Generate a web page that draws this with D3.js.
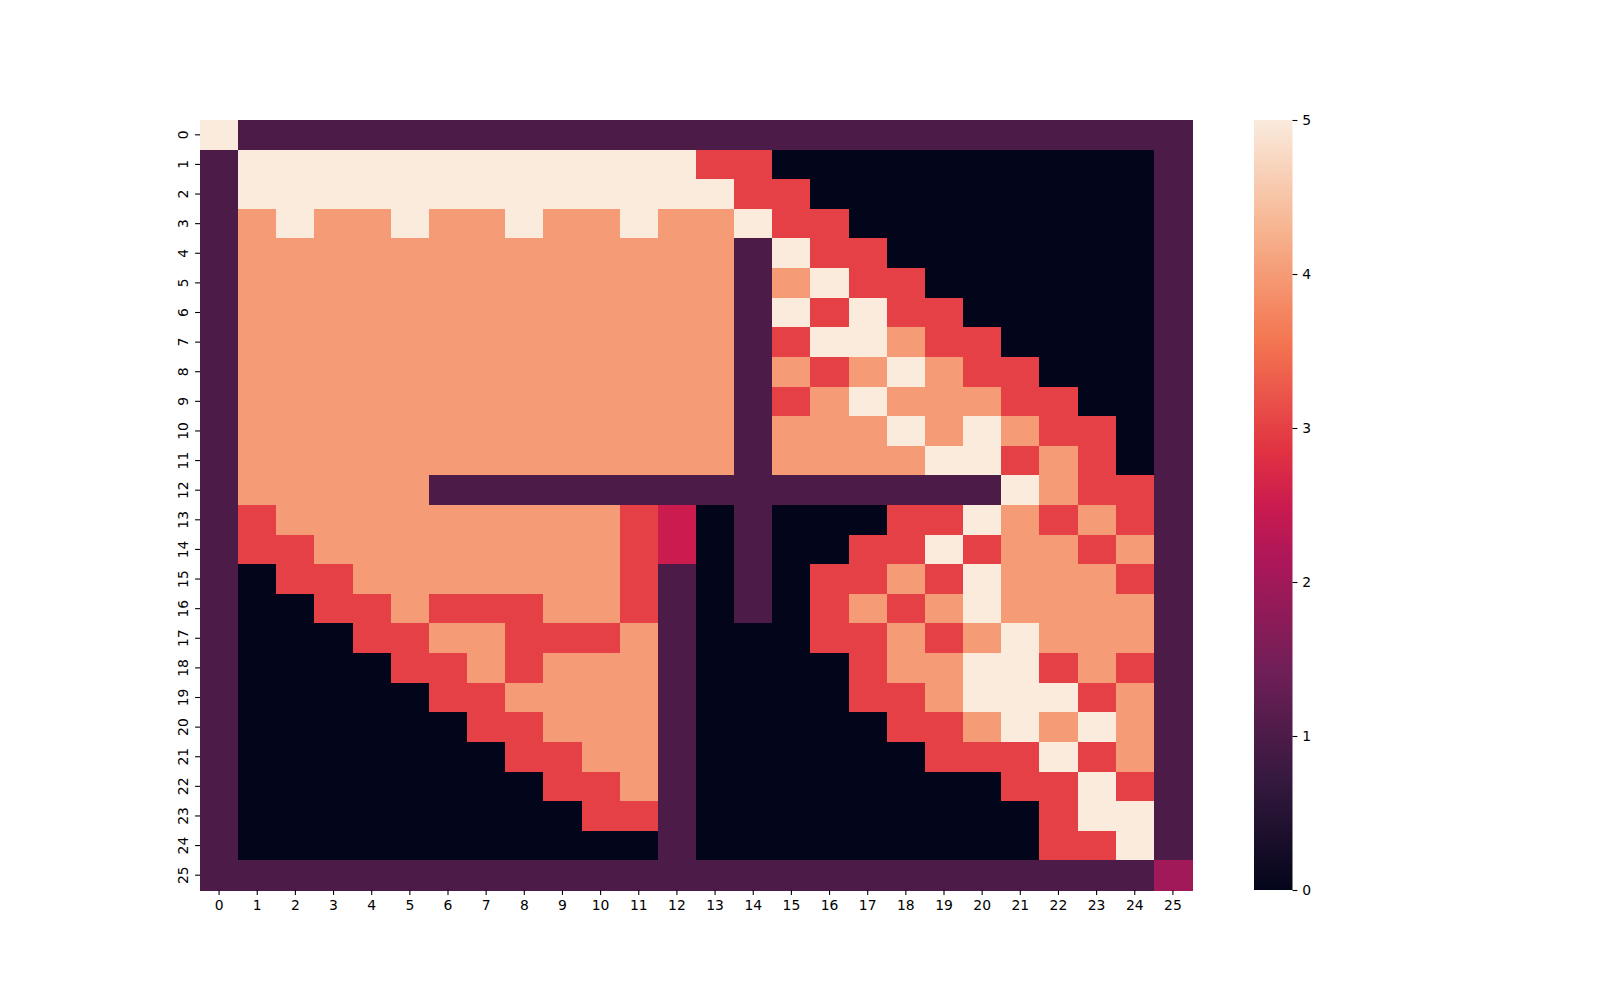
<!DOCTYPE html>
<html><head><meta charset="utf-8">
<script src="https://cdn.jsdelivr.net/npm/d3@7"></script>
<style>html,body{margin:0;padding:0;background:#fff;} text{font-family:"DejaVu Sans",sans-serif;}</style>
</head><body>
<svg id="chart" width="1600" height="1000"></svg>
<script>
const rowLabels = d3.range(26).map(String);
const colLabels = d3.range(26).map(String);
const colorTicks = [0, 1, 2, 3, 4, 5];
const values = [
[5,1,1,1,1,1,1,1,1,1,1,1,1,1,1,1,1,1,1,1,1,1,1,1,1,1],
[1,5,5,5,5,5,5,5,5,5,5,5,5,3,3,0,0,0,0,0,0,0,0,0,0,1],
[1,5,5,5,5,5,5,5,5,5,5,5,5,5,3,3,0,0,0,0,0,0,0,0,0,1],
[1,4,5,4,4,5,4,4,5,4,4,5,4,4,5,3,3,0,0,0,0,0,0,0,0,1],
[1,4,4,4,4,4,4,4,4,4,4,4,4,4,1,5,3,3,0,0,0,0,0,0,0,1],
[1,4,4,4,4,4,4,4,4,4,4,4,4,4,1,4,5,3,3,0,0,0,0,0,0,1],
[1,4,4,4,4,4,4,4,4,4,4,4,4,4,1,5,3,5,3,3,0,0,0,0,0,1],
[1,4,4,4,4,4,4,4,4,4,4,4,4,4,1,3,5,5,4,3,3,0,0,0,0,1],
[1,4,4,4,4,4,4,4,4,4,4,4,4,4,1,4,3,4,5,4,3,3,0,0,0,1],
[1,4,4,4,4,4,4,4,4,4,4,4,4,4,1,3,4,5,4,4,4,3,3,0,0,1],
[1,4,4,4,4,4,4,4,4,4,4,4,4,4,1,4,4,4,5,4,5,4,3,3,0,1],
[1,4,4,4,4,4,4,4,4,4,4,4,4,4,1,4,4,4,4,5,5,3,4,3,0,1],
[1,4,4,4,4,4,1,1,1,1,1,1,1,1,1,1,1,1,1,1,1,5,4,3,3,1],
[1,3,4,4,4,4,4,4,4,4,4,3,2.5,0,1,0,0,0,3,3,5,4,3,4,3,1],
[1,3,3,4,4,4,4,4,4,4,4,3,2.5,0,1,0,0,3,3,5,3,4,4,3,4,1],
[1,0,3,3,4,4,4,4,4,4,4,3,1,0,1,0,3,3,4,3,5,4,4,4,3,1],
[1,0,0,3,3,4,3,3,3,4,4,3,1,0,1,0,3,4,3,4,5,4,4,4,4,1],
[1,0,0,0,3,3,4,4,3,3,3,4,1,0,0,0,3,3,4,3,4,5,4,4,4,1],
[1,0,0,0,0,3,3,4,3,4,4,4,1,0,0,0,0,3,4,4,5,5,3,4,3,1],
[1,0,0,0,0,0,3,3,4,4,4,4,1,0,0,0,0,3,3,4,5,5,5,3,4,1],
[1,0,0,0,0,0,0,3,3,4,4,4,1,0,0,0,0,0,3,3,4,5,4,5,4,1],
[1,0,0,0,0,0,0,0,3,3,4,4,1,0,0,0,0,0,0,3,3,3,5,3,4,1],
[1,0,0,0,0,0,0,0,0,3,3,4,1,0,0,0,0,0,0,0,0,3,3,5,3,1],
[1,0,0,0,0,0,0,0,0,0,3,3,1,0,0,0,0,0,0,0,0,0,3,5,5,1],
[1,0,0,0,0,0,0,0,0,0,0,0,1,0,0,0,0,0,0,0,0,0,3,3,5,1],
[1,1,1,1,1,1,1,1,1,1,1,1,1,1,1,1,1,1,1,1,1,1,1,1,1,2]
];
// approximate "rocket" colormap stops
const rocketPos = [0, 1/7, 2/7, 3/7, 0.5, 4/7, 5/7, 6/7, 1];
const rocketCol = ["#03051a","#35193e","#701f57","#ad1759","#cb1b4f","#e13342","#f37651","#f6b48f","#faebdd"];

const svg = d3.select("#chart");
const L = 200, R = 1192, T = 120, B = 890;
const x = d3.scaleBand().domain(colLabels).range([L, R]).padding(0);
const y = d3.scaleBand().domain(rowLabels).range([T, B]).padding(0);
const vmin = 0, vmax = 5;
const color = d3.scaleLinear().domain(rocketPos.map(p => vmin + p * (vmax - vmin))).range(rocketCol).interpolate(d3.interpolateRgb).clamp(true);

const cells = [];
values.forEach((row, i) => row.forEach((v, j) => cells.push({r: rowLabels[i], c: colLabels[j], v})));
svg.append("g").attr("shape-rendering", "crispEdges").selectAll("rect").data(cells).join("rect")
  .attr("x", d => x(d.c)).attr("y", d => y(d.r))
  .attr("width", x.bandwidth() + 0.6).attr("height", y.bandwidth() + 0.6)
  .attr("fill", d => color(d.v));

const fs = "13.9px";
const xAxis = svg.append("g").attr("transform", `translate(0,${B})`)
  .call(d3.axisBottom(x).tickSize(4.9).tickPadding(4.9));
xAxis.select(".domain").remove();
xAxis.selectAll("text").attr("font-size", fs).attr("fill", "#000").attr("font-family", "DejaVu Sans");
xAxis.selectAll("line").attr("stroke", "#000").attr("stroke-width", 1.1);

const yAxis = svg.append("g").attr("transform", `translate(${L},0)`)
  .call(d3.axisLeft(y).tickSize(4.9).tickPadding(4.9));
yAxis.select(".domain").remove();
yAxis.selectAll("line").attr("stroke", "#000").attr("stroke-width", 1.1);
yAxis.selectAll("text").attr("font-size", fs).attr("fill", "#000").attr("font-family", "DejaVu Sans")
  .attr("text-anchor", "middle").attr("dy", null).attr("x", null)
  .attr("transform", `translate(${-4.9 - 4.9 - 7.5},0) rotate(-90)`)
  .attr("dominant-baseline", "central");

// colorbar
const cbL = 1254, cbW = 38.5;
const defs = svg.append("defs");
const grad = defs.append("linearGradient").attr("id", "cbgrad").attr("x1", 0).attr("y1", 1).attr("x2", 0).attr("y2", 0);
rocketPos.forEach((p, i) => grad.append("stop").attr("offset", p).attr("stop-color", rocketCol[i]));
svg.append("rect").attr("x", cbL).attr("y", T).attr("width", cbW).attr("height", B - T).attr("fill", "url(#cbgrad)");
const cy = d3.scaleLinear().domain([vmin, vmax]).range([B, T]);
const cAxis = svg.append("g").attr("transform", `translate(${cbL + cbW},0)`)
  .call(d3.axisRight(cy).tickValues(colorTicks).tickFormat(d3.format("d")).tickSize(4.9).tickPadding(4.9));
cAxis.select(".domain").remove();
cAxis.selectAll("text").attr("font-size", fs).attr("fill", "#000").attr("font-family", "DejaVu Sans");
cAxis.selectAll("line").attr("stroke", "#000").attr("stroke-width", 1.1);
</script>
</body></html>
